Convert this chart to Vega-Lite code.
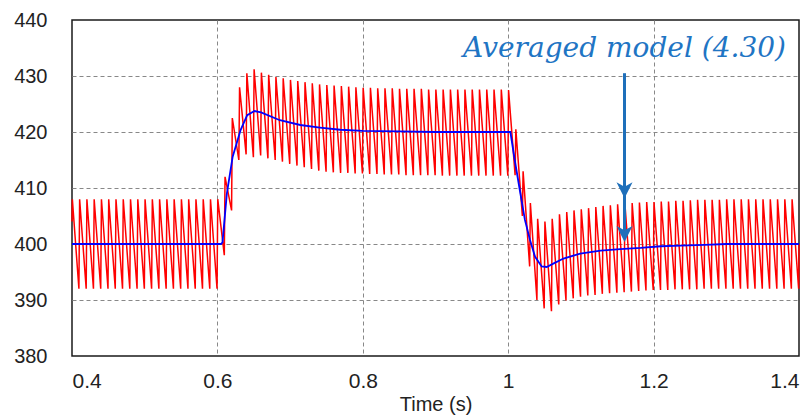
{
  "$schema": "https://vega.github.io/schema/vega-lite/v6.json",
  "width": 727,
  "height": 336,
  "autosize": {"type": "none"},
  "padding": {"left": 72, "top": 20, "right": 2, "bottom": 61},
  "background": "white",
  "config": {
    "view": {"stroke": "#1a1a1a", "strokeWidth": 1.5},
    "axis": {
      "grid": true,
      "gridDash": [4, 3],
      "gridColor": "#888888",
      "gridWidth": 1,
      "domain": false,
      "ticks": false,
      "tickSize": 0,
      "labelFont": "Arial, Liberation Sans, sans-serif",
      "labelFontSize": 20,
      "labelColor": "#222222",
      "titleFont": "Arial, Liberation Sans, sans-serif",
      "titleFontSize": 20,
      "titleFontWeight": "normal",
      "titleColor": "#222222"
    },
    "axisY": {"labelPadding": 25},
    "axisX": {"labelPadding": 14, "titlePadding": 3, "labelFontSize": 21}
  },
  "datasets": {
    "pwm": [
      {"t": 0.4, "v": 404},
      {"t": 0.4005, "v": 408}, {"t": 0.4095, "v": 392},
      {"t": 0.4105, "v": 408}, {"t": 0.4195, "v": 392},
      {"t": 0.4205, "v": 408}, {"t": 0.4295, "v": 392},
      {"t": 0.4305, "v": 408}, {"t": 0.4395, "v": 392},
      {"t": 0.4405, "v": 408}, {"t": 0.4495, "v": 392},
      {"t": 0.4505, "v": 408}, {"t": 0.4595, "v": 392},
      {"t": 0.4605, "v": 408}, {"t": 0.4695, "v": 392},
      {"t": 0.4705, "v": 408}, {"t": 0.4795, "v": 392},
      {"t": 0.4805, "v": 408}, {"t": 0.4895, "v": 392},
      {"t": 0.4905, "v": 408}, {"t": 0.4995, "v": 392},
      {"t": 0.5005, "v": 408}, {"t": 0.5095, "v": 392},
      {"t": 0.5105, "v": 408}, {"t": 0.5195, "v": 392},
      {"t": 0.5205, "v": 408}, {"t": 0.5295, "v": 392},
      {"t": 0.5305, "v": 408}, {"t": 0.5395, "v": 392},
      {"t": 0.5405, "v": 408}, {"t": 0.5495, "v": 392},
      {"t": 0.5505, "v": 408}, {"t": 0.5595, "v": 392},
      {"t": 0.5605, "v": 408}, {"t": 0.5695, "v": 392},
      {"t": 0.5705, "v": 408}, {"t": 0.5795, "v": 392},
      {"t": 0.5805, "v": 408}, {"t": 0.5895, "v": 392},
      {"t": 0.5905, "v": 408}, {"t": 0.5995, "v": 392},
      {"t": 0.6005, "v": 408}, {"t": 0.6095, "v": 398},
      {"t": 0.6105, "v": 412}, {"t": 0.6195, "v": 406},
      {"t": 0.6205, "v": 422.5}, {"t": 0.6295, "v": 415},
      {"t": 0.6305, "v": 428}, {"t": 0.6395, "v": 416},
      {"t": 0.6405, "v": 430.5}, {"t": 0.6495, "v": 415.5},
      {"t": 0.6505, "v": 431.2}, {"t": 0.6595, "v": 415.8},
      {"t": 0.6605, "v": 430.6}, {"t": 0.6695, "v": 415.3},
      {"t": 0.6705, "v": 430.2}, {"t": 0.6795, "v": 415},
      {"t": 0.6805, "v": 429.8}, {"t": 0.6895, "v": 414.7},
      {"t": 0.6905, "v": 429.6}, {"t": 0.6995, "v": 414.3},
      {"t": 0.7005, "v": 429.3}, {"t": 0.7095, "v": 414},
      {"t": 0.7105, "v": 429.1}, {"t": 0.7195, "v": 413.7},
      {"t": 0.7205, "v": 428.9}, {"t": 0.7295, "v": 413.4},
      {"t": 0.7305, "v": 428.7}, {"t": 0.7395, "v": 413.1},
      {"t": 0.7405, "v": 428.5}, {"t": 0.7495, "v": 412.9},
      {"t": 0.7505, "v": 428.4}, {"t": 0.7595, "v": 412.8},
      {"t": 0.7605, "v": 428.3}, {"t": 0.7695, "v": 412.7},
      {"t": 0.7705, "v": 428.2}, {"t": 0.7795, "v": 412.7},
      {"t": 0.7805, "v": 428.1}, {"t": 0.7895, "v": 412.6},
      {"t": 0.7905, "v": 428}, {"t": 0.7995, "v": 412.6},
      {"t": 0.8005, "v": 427.9}, {"t": 0.8095, "v": 412.5},
      {"t": 0.8105, "v": 427.9}, {"t": 0.8195, "v": 412.5},
      {"t": 0.8205, "v": 427.8}, {"t": 0.8295, "v": 412.4},
      {"t": 0.8305, "v": 427.8}, {"t": 0.8395, "v": 412.4},
      {"t": 0.8405, "v": 427.8}, {"t": 0.8495, "v": 412.4},
      {"t": 0.8505, "v": 427.7}, {"t": 0.8595, "v": 412.3},
      {"t": 0.8605, "v": 427.7}, {"t": 0.8695, "v": 412.3},
      {"t": 0.8705, "v": 427.7}, {"t": 0.8795, "v": 412.3},
      {"t": 0.8805, "v": 427.7}, {"t": 0.8895, "v": 412.3},
      {"t": 0.8905, "v": 427.6}, {"t": 0.8995, "v": 412.3},
      {"t": 0.9005, "v": 427.6}, {"t": 0.9095, "v": 412.2},
      {"t": 0.9105, "v": 427.6}, {"t": 0.9195, "v": 412.2},
      {"t": 0.9205, "v": 427.6}, {"t": 0.9295, "v": 412.2},
      {"t": 0.9305, "v": 427.6}, {"t": 0.9395, "v": 412.2},
      {"t": 0.9405, "v": 427.6}, {"t": 0.9495, "v": 412.2},
      {"t": 0.9505, "v": 427.6}, {"t": 0.9595, "v": 412.2},
      {"t": 0.9605, "v": 427.6}, {"t": 0.9695, "v": 412.2},
      {"t": 0.9705, "v": 427.6}, {"t": 0.9795, "v": 412.2},
      {"t": 0.9805, "v": 427.6}, {"t": 0.9895, "v": 412.2},
      {"t": 0.9905, "v": 427.6}, {"t": 0.9995, "v": 412.2},
      {"t": 1.0005, "v": 427.5}, {"t": 1.0095, "v": 412.3},
      {"t": 1.0105, "v": 420.5}, {"t": 1.0195, "v": 405},
      {"t": 1.0205, "v": 413}, {"t": 1.0295, "v": 396},
      {"t": 1.0305, "v": 407.3}, {"t": 1.0395, "v": 390},
      {"t": 1.0405, "v": 404.5}, {"t": 1.0495, "v": 388.5},
      {"t": 1.0505, "v": 404}, {"t": 1.0595, "v": 388},
      {"t": 1.0605, "v": 404.5}, {"t": 1.0695, "v": 389.2},
      {"t": 1.0705, "v": 405.3}, {"t": 1.0795, "v": 389.9},
      {"t": 1.0805, "v": 405.7}, {"t": 1.0895, "v": 390.3},
      {"t": 1.0905, "v": 406}, {"t": 1.0995, "v": 390.6},
      {"t": 1.1005, "v": 406.2}, {"t": 1.1095, "v": 390.8},
      {"t": 1.1105, "v": 406.4}, {"t": 1.1195, "v": 390.9},
      {"t": 1.1205, "v": 406.6}, {"t": 1.1295, "v": 391.1},
      {"t": 1.1305, "v": 406.8}, {"t": 1.1395, "v": 391.2},
      {"t": 1.1405, "v": 406.9}, {"t": 1.1495, "v": 391.3},
      {"t": 1.1505, "v": 407.1}, {"t": 1.1595, "v": 391.4},
      {"t": 1.1605, "v": 407.2}, {"t": 1.1695, "v": 391.5},
      {"t": 1.1705, "v": 407.3}, {"t": 1.1795, "v": 391.6},
      {"t": 1.1805, "v": 407.4}, {"t": 1.1895, "v": 391.7},
      {"t": 1.1905, "v": 407.5}, {"t": 1.1995, "v": 391.8},
      {"t": 1.2005, "v": 407.5}, {"t": 1.2095, "v": 391.8},
      {"t": 1.2105, "v": 407.6}, {"t": 1.2195, "v": 391.8},
      {"t": 1.2205, "v": 407.6}, {"t": 1.2295, "v": 391.9},
      {"t": 1.2305, "v": 407.7}, {"t": 1.2395, "v": 391.9},
      {"t": 1.2405, "v": 407.7}, {"t": 1.2495, "v": 391.9},
      {"t": 1.2505, "v": 407.8}, {"t": 1.2595, "v": 391.9},
      {"t": 1.2605, "v": 407.9}, {"t": 1.2695, "v": 392},
      {"t": 1.2705, "v": 407.9}, {"t": 1.2795, "v": 392},
      {"t": 1.2805, "v": 407.9}, {"t": 1.2895, "v": 392},
      {"t": 1.2905, "v": 407.9}, {"t": 1.2995, "v": 392},
      {"t": 1.3005, "v": 408}, {"t": 1.3095, "v": 392},
      {"t": 1.3105, "v": 408}, {"t": 1.3195, "v": 392},
      {"t": 1.3205, "v": 408}, {"t": 1.3295, "v": 392},
      {"t": 1.3305, "v": 408}, {"t": 1.3395, "v": 392},
      {"t": 1.3405, "v": 408}, {"t": 1.3495, "v": 392},
      {"t": 1.3505, "v": 408}, {"t": 1.3595, "v": 392},
      {"t": 1.3605, "v": 408}, {"t": 1.3695, "v": 392},
      {"t": 1.3705, "v": 408}, {"t": 1.3795, "v": 392},
      {"t": 1.3805, "v": 408}, {"t": 1.3895, "v": 392},
      {"t": 1.3905, "v": 408}, {"t": 1.3995, "v": 392},
      {"t": 1.4, "v": 400}
    ],
    "avg": [
      {"t": 0.4, "v": 400},
      {"t": 0.605, "v": 400},
      {"t": 0.607, "v": 400.3},
      {"t": 0.613, "v": 409},
      {"t": 0.621, "v": 415.6},
      {"t": 0.632, "v": 420.4},
      {"t": 0.641, "v": 423},
      {"t": 0.651, "v": 423.75},
      {"t": 0.66, "v": 423.5},
      {"t": 0.686, "v": 422.1},
      {"t": 0.714, "v": 421.25},
      {"t": 0.741, "v": 420.8},
      {"t": 0.769, "v": 420.4},
      {"t": 0.8, "v": 420.2},
      {"t": 0.85, "v": 420.1},
      {"t": 0.9, "v": 420},
      {"t": 1.003, "v": 420},
      {"t": 1.009, "v": 415},
      {"t": 1.016, "v": 409.6},
      {"t": 1.023, "v": 404.3},
      {"t": 1.03, "v": 400.7},
      {"t": 1.037, "v": 397.7},
      {"t": 1.046, "v": 396},
      {"t": 1.053, "v": 395.9},
      {"t": 1.062, "v": 396.5},
      {"t": 1.076, "v": 397.4},
      {"t": 1.099, "v": 398.3},
      {"t": 1.127, "v": 398.8},
      {"t": 1.154, "v": 399.1},
      {"t": 1.182, "v": 399.3},
      {"t": 1.21, "v": 399.6},
      {"t": 1.237, "v": 399.7},
      {"t": 1.27, "v": 399.85},
      {"t": 1.3, "v": 400},
      {"t": 1.4, "v": 400}
    ]
  },
  "layer": [
    {
      "data": {"name": "pwm"},
      "mark": {"type": "line", "color": "#ff0000", "strokeWidth": 1.5},
      "encoding": {
        "x": {
          "field": "t", "type": "quantitative",
          "scale": {"domain": [0.4, 1.4], "nice": false, "zero": false},
          "axis": {
            "title": "Time (s)",
            "values": [0.4, 0.6, 0.8, 1, 1.2, 1.4],
            "format": "~g",
            "gridOpacity": {"condition": {"test": "datum.value <= 0.4 || datum.value >= 1.4", "value": 0}, "value": 1}
          }
        },
        "y": {
          "field": "v", "type": "quantitative",
          "scale": {"domain": [380, 440], "nice": false, "zero": false},
          "axis": {
            "title": null,
            "values": [380, 390, 400, 410, 420, 430, 440],
            "gridOpacity": {"condition": {"test": "datum.value <= 380 || datum.value >= 440", "value": 0}, "value": 1}
          }
        }
      }
    },
    {
      "data": {"name": "avg"},
      "mark": {"type": "line", "color": "#0000ff", "strokeWidth": 1.8},
      "encoding": {
        "x": {"field": "t", "type": "quantitative"},
        "y": {"field": "v", "type": "quantitative"}
      }
    },
    {
      "data": {"values": [{"t": 1.16, "v": 430.5, "v2": 402.5}]},
      "mark": {"type": "rule", "color": "#1e6fba", "strokeWidth": 3},
      "encoding": {
        "x": {"field": "t", "type": "quantitative"},
        "y": {"field": "v", "type": "quantitative"},
        "y2": {"field": "v2"}
      }
    },
    {
      "data": {"values": [{"t": 1.16, "v": 409.6}, {"t": 1.16, "v": 401.8}]},
      "mark": {"type": "point", "shape": "M0,1L-1,-1L0,-0.45L1,-1Z", "filled": true, "color": "#1e6fba", "opacity": 1, "size": 256, "strokeWidth": 0},
      "encoding": {
        "x": {"field": "t", "type": "quantitative"},
        "y": {"field": "v", "type": "quantitative"}
      }
    },
    {
      "data": {"values": [{"t": 1.16, "v": 433.4, "label": "Averaged model (4.30)"}]},
      "mark": {"type": "text", "font": "DejaVu Serif", "fontStyle": "italic", "fontSize": 28, "color": "#1f75c4", "baseline": "alphabetic", "align": "center"},
      "encoding": {
        "x": {"field": "t", "type": "quantitative"},
        "y": {"field": "v", "type": "quantitative"},
        "text": {"field": "label"}
      }
    }
  ]
}
